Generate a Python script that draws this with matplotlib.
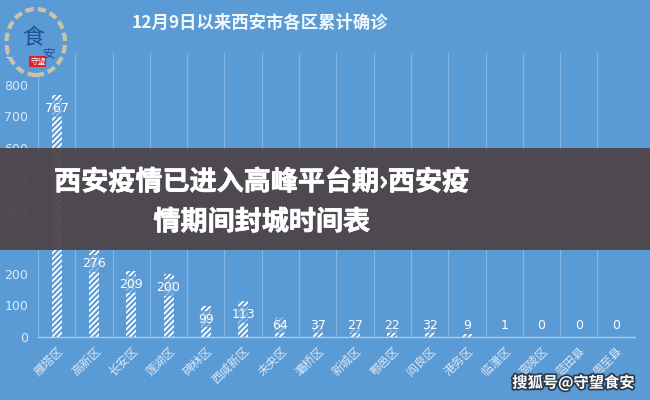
import numpy as np
import matplotlib
matplotlib.use("Agg")
import matplotlib.pyplot as plt
import matplotlib.patheffects as pe
from matplotlib.patches import Rectangle, Ellipse

plt.rcParams["font.family"] = ["Noto Sans CJK SC", "DejaVu Sans"]
plt.rcParams["hatch.linewidth"] = 1.3

districts = ["雁塔区", "高新区", "长安区", "莲湖区", "碑林区", "西咸新区", "未央区", "灞桥区",
             "新城区", "鄠邑区", "阎良区", "港务区", "临潼区", "高陵区", "蓝田县", "周至县"]
cases = [767, 276, 209, 200, 99, 113, 64, 37, 27, 22, 32, 9, 1, 0, 0, 0]
title = "12月9日以来西安市各区累计确诊"
headline = ["西安疫情已进入高峰平台期›西安疫", "情期间封城时间表"]
watermark = "搜狐号@守望食安"

BG = "#5b9bd5"
LIGHT = "#dbe8f5"

fig = plt.figure(figsize=(6.5, 4), dpi=100)
fig.patch.set_facecolor(BG)
ax = fig.add_axes([0.0585, 0.1575, 0.918, 0.71])
ax.set_facecolor(BG)

x = np.arange(len(districts))
ax.bar(x, cases, width=0.27, color=BG, edgecolor="white", hatch="//////", linewidth=0)

for xi, v in zip(x, cases):
    ax.text(xi, max(v - 42, 38), str(v), ha="center", va="center", fontsize=9,
            color="white", family=["DejaVu Sans"],
            bbox=dict(boxstyle="square,pad=0.15", fc=BG, ec="none", alpha=0.7))

ax.set_xlim(-0.5, len(districts) - 0.5)
ax.set_ylim(0, 900)
ax.set_yticks(range(0, 901, 100))
ax.set_xticks(x)
ax.set_xticklabels(districts, rotation=45, ha="right", rotation_mode="anchor",
                   fontsize=8.5, color=LIGHT)
ax.tick_params(axis="y", labelsize=9, labelcolor=LIGHT, length=0, pad=7)
ax.tick_params(axis="x", length=0, pad=5)
for lab in ax.get_yticklabels():
    lab.set_family(["DejaVu Sans"])
for xb in np.arange(-0.5, len(districts), 1.0):
    ax.axvline(xb, color="#85b5e2", lw=0.8, zorder=0)
for s in ["top", "right", "left"]:
    ax.spines[s].set_visible(False)
ax.spines["bottom"].set_color("#a9cbea")
ax.spines["bottom"].set_linewidth(1.0)

fig.text(0.40, 0.942, title, ha="center", va="center", fontsize=12.5,
         fontweight="bold", color="#f2f7fc")

# dark banner with headline
fig.patches.append(Rectangle((0, 0.375), 1, 0.255, transform=fig.transFigure,
                             fc="#4d4246", ec="none", alpha=0.93, zorder=5))
stroke = [pe.withStroke(linewidth=0.5, foreground="white")]
fig.text(0.403, 0.545, headline[0], ha="center", va="center", fontsize=19.5,
         fontweight="heavy", color="white", zorder=6, path_effects=stroke)
fig.text(0.403, 0.445, headline[1], ha="center", va="center", fontsize=19.5,
         fontweight="heavy", color="white", zorder=6, path_effects=stroke)

# logo (top left)
fig.patches.append(Ellipse((0.055, 0.895), 0.09, 0.165, transform=fig.transFigure,
                           fc=BG, ec="#c9c4a8", lw=3, ls=(0, (2, 1)), zorder=7))
fig.text(0.052, 0.905, "食", ha="center", va="center", fontsize=16,
         color="#1f4f96", zorder=8)
fig.text(0.075, 0.862, "安", ha="center", va="center", fontsize=9,
         color="#1f4f96", zorder=8)
fig.text(0.058, 0.846, "守望", ha="center", va="center", fontsize=5.5, color="white",
         zorder=8, bbox=dict(boxstyle="square,pad=0.15", fc="#d8242c", ec="none"))

# watermark
fig.text(0.882, 0.043, watermark, ha="center", va="center", fontsize=11,
         fontweight="bold", color="white", zorder=8,
         path_effects=[pe.withStroke(linewidth=2.5, foreground="#2d3a4a")])

fig.savefig("out.png", dpi=100, facecolor=BG)
